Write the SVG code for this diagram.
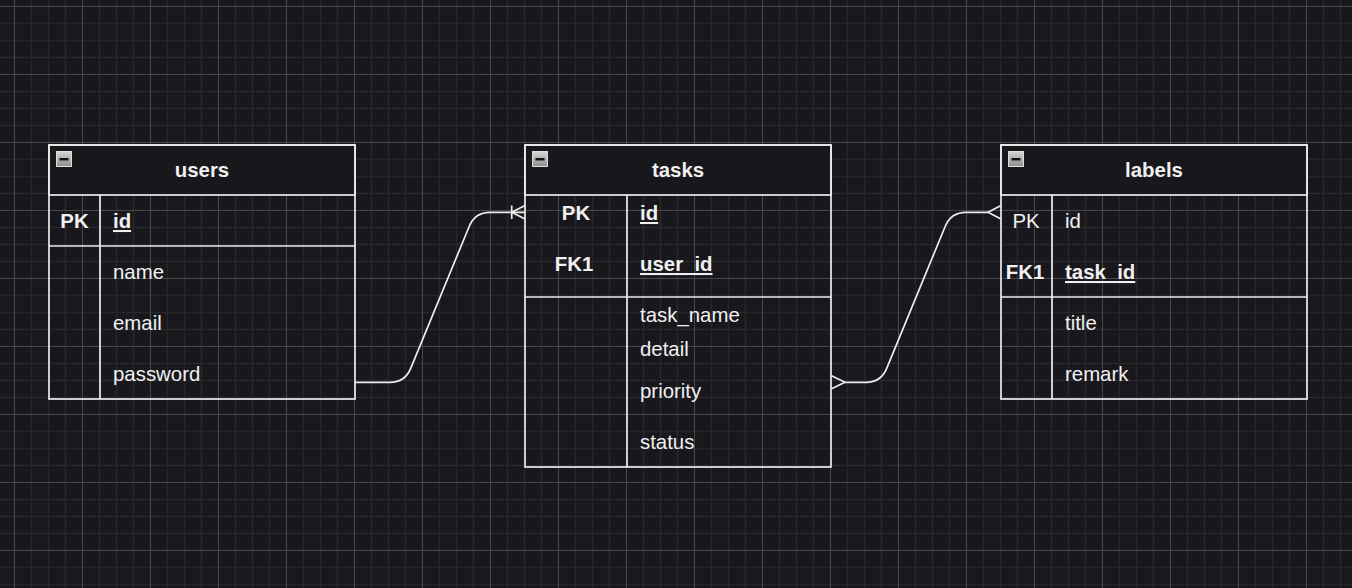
<svg xmlns="http://www.w3.org/2000/svg" width="1352" height="588" viewBox="0 0 1352 588">
<defs>
<pattern id="grid" x="14" y="6" width="68" height="68" patternUnits="userSpaceOnUse">
<path d="M17.5 0V68M34.5 0V68M51.5 0V68M0 17.5H68M0 34.5H68M0 51.5H68" stroke="#27262b" stroke-width="1.5" fill="none"/>
<path d="M0.5 0V68M0 0.5H68" stroke="#48474c" stroke-width="1" fill="none"/>
</pattern>
<linearGradient id="ig" x1="0" y1="0" x2="0" y2="1">
<stop offset="0" stop-color="#d6d6d6"/>
<stop offset="1" stop-color="#8e8e8e"/>
</linearGradient>
</defs>
<style>
.t{font-family:"Liberation Sans",Arial,Helvetica,sans-serif;font-size:20.4px;fill:#f0f0f0}
.b{font-weight:bold}
.u{text-decoration:underline}
.m{text-anchor:middle}
.box{fill:none;stroke:#ececec;stroke-width:1.7}
.hdr{fill:#18171c;stroke:#ececec;stroke-width:1.7}
.ln{stroke:#ececec;stroke-width:1.7;fill:none}
.ico{fill:url(#ig);stroke:#e0e0e0;stroke-width:1}
.min{fill:#141414}
.conn{fill:none;stroke:#ececec;stroke-width:1.7;stroke-linejoin:round}
</style>
<rect width="1352" height="588" fill="#18171c"/>
<rect width="1352" height="588" fill="url(#grid)"/>

<g id="users">
<rect class="hdr" x="49" y="145" width="306" height="50"/>
<rect class="box" x="49" y="145" width="306" height="254"/>
<path class="ln" d="M49 246H355M100 195V399"/>
<rect class="ico" x="56.5" y="151.5" width="15" height="15"/>
<rect class="min" x="59.5" y="158" width="9" height="2.5"/>
<text class="t b m" x="202" y="177">users</text>
<text class="t b m" x="74.5" y="228">PK</text>
<text class="t b u" x="113" y="228">id</text>
<text class="t" x="113" y="279">name</text>
<text class="t" x="113" y="330">email</text>
<text class="t" x="113" y="381">password</text>
</g>

<g id="tasks">
<rect class="hdr" x="525" y="145" width="306" height="50"/>
<rect class="box" x="525" y="145" width="306" height="322"/>
<path class="ln" d="M525 297H831M627 195V467"/>
<rect class="ico" x="532.5" y="151.5" width="15" height="15"/>
<rect class="min" x="535.5" y="158" width="9" height="2.5"/>
<text class="t b m" x="678" y="177">tasks</text>
<text class="t b m" x="576" y="220">PK</text>
<text class="t b u" x="640" y="220">id</text>
<text class="t b m" x="574" y="271">FK1</text>
<text class="t b u" x="640" y="271">user_id</text>
<text class="t" x="640" y="322">task_name</text>
<text class="t" x="640" y="356">detail</text>
<text class="t" x="640" y="398">priority</text>
<text class="t" x="640" y="449">status</text>
</g>

<g id="labels">
<rect class="hdr" x="1001" y="145" width="306" height="50"/>
<rect class="box" x="1001" y="145" width="306" height="254"/>
<path class="ln" d="M1001 297H1307M1052 195V399"/>
<rect class="ico" x="1008.5" y="151.5" width="15" height="15"/>
<rect class="min" x="1011.5" y="158" width="9" height="2.5"/>
<text class="t b m" x="1154" y="177">labels</text>
<text class="t m" x="1026" y="228">PK</text>
<text class="t" x="1065" y="228">id</text>
<text class="t b m" x="1025" y="279">FK1</text>
<text class="t b u" x="1065" y="279">task_id</text>
<text class="t" x="1065" y="330">title</text>
<text class="t" x="1065" y="381">remark</text>
</g>

<g id="connectors">
<path class="conn" d="M355 382.3H390Q405 382.3 410.7 368.4L469.3 226.2Q475 212.3 490 212.3H525"/>
<path class="conn" d="M511.7 205.5V219M525 205.5L511.7 212.3L525 219"/>
<path class="conn" d="M845 382.3H866Q881 382.3 886.7 368.4L945.3 226.2Q951 212.3 966 212.3H988"/>
<path class="conn" d="M831 375.6L845 382.3L831 389"/>
<path class="conn" d="M1001 205.6L988 212.3L1001 219"/>
</g>
</svg>
